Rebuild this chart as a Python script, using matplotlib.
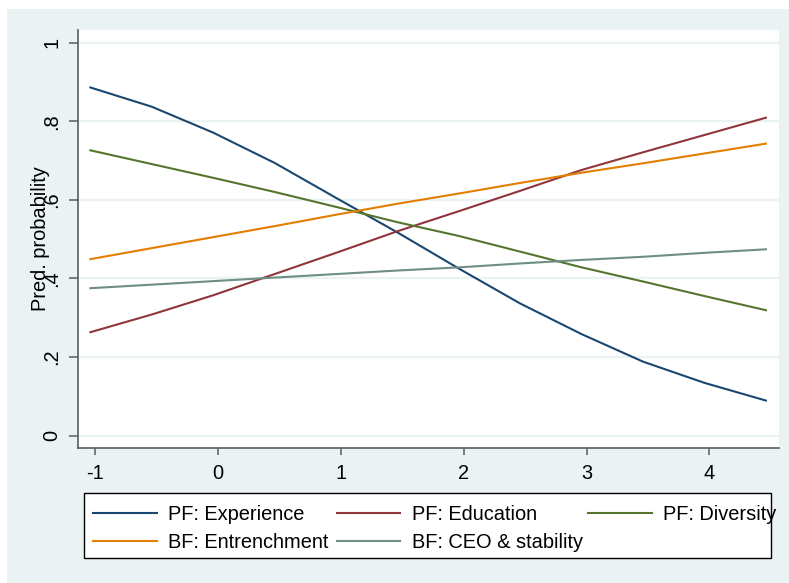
import matplotlib
matplotlib.use("Agg")
import matplotlib.pyplot as plt
from matplotlib.patches import Rectangle
from matplotlib.lines import Line2D

plt.rcParams['font.family'] = ['Liberation Sans', 'DejaVu Sans']

# ---- data -------------------------------------------------------------
x_vals = [-1.04, -0.54, -0.04, 0.46, 0.96, 1.46, 1.96, 2.46, 2.96, 3.46, 3.96, 4.46]

pf_experience = [0.886, 0.837, 0.771, 0.694, 0.605, 0.517, 0.425, 0.336, 0.258, 0.188, 0.134, 0.089]
pf_education = [0.263, 0.308, 0.357, 0.411, 0.465, 0.520, 0.571, 0.623, 0.676, 0.721, 0.765, 0.809]
pf_diversity = [0.726, 0.691, 0.656, 0.620, 0.582, 0.543, 0.508, 0.468, 0.428, 0.392, 0.355, 0.319]
bf_entrenchment = [0.449, 0.477, 0.505, 0.533, 0.562, 0.590, 0.616, 0.643, 0.669, 0.693, 0.718, 0.743]
bf_ceo_stability = [0.375, 0.384, 0.393, 0.402, 0.411, 0.420, 0.428, 0.438, 0.447, 0.455, 0.465, 0.474]

series_labels = ["PF: Experience", "PF: Education", "PF: Diversity",
                 "BF: Entrenchment", "BF: CEO & stability"]
series_values = [pf_experience, pf_education, pf_diversity,
                 bf_entrenchment, bf_ceo_stability]
series_colors = ["#1A476F", "#90353B", "#55752F", "#E37E00", "#6E8E84"]

x_ticks = [-1, 0, 1, 2, 3, 4]
x_ticklabels = ["-1", "0", "1", "2", "3", "4"]
y_ticks = [0, 0.2, 0.4, 0.6, 0.8, 1.0]
y_ticklabels = ["0", ".2", ".4", ".6", ".8", "1"]
y_title = "Pred. probability"

# ---- figure -----------------------------------------------------------
W, H = 789, 583
DPI = 100
fig = plt.figure(figsize=(W / DPI, H / DPI), dpi=DPI, facecolor="white")


def fx(px):
    return px / W


def fy(py):
    return 1 - py / H


BG = "#EAF2F3"
GRID = "#EAF2F3"
AXCOL = "#5C5C5C"
FS = 14.4
LW = 1.5

# graph region background
fig.patches.append(Rectangle((fx(7), 0), fx(789) - fx(7), fy(9), transform=fig.transFigure,
                             facecolor=BG, edgecolor="none", zorder=-10))

# plot region
ax = fig.add_axes([fx(78), fy(448), fx(779) - fx(78), fy(30) - fy(448)])
ax.set_zorder(2)
ax.set_facecolor("white")

for vals, col in zip(series_values, series_colors):
    ax.plot(x_vals, vals, color=col, lw=LW, solid_joinstyle="round", zorder=3)

ax.set_xlim(-1.1407, 4.5667)
ax.set_ylim(-0.0318, 1.0323)

ax.set_xticks(x_ticks)
ax.set_xticklabels(x_ticklabels)
ax.set_yticks(y_ticks)
ax.set_yticklabels(y_ticklabels)

ax.yaxis.grid(True, color=GRID, lw=1.6, zorder=1)
ax.set_axisbelow(True)

for side in ("top", "right"):
    ax.spines[side].set_visible(False)
for side in ("left", "bottom"):
    ax.spines[side].set_color(AXCOL)
    ax.spines[side].set_linewidth(1.2)

ax.tick_params(axis="x", length=5, width=1.1, color=AXCOL, pad=6.5, labelsize=FS)
ax.tick_params(axis="y", length=6.5, width=1.1, color=AXCOL, pad=5.5, labelsize=FS)
for lbl in ax.get_yticklabels():
    lbl.set_rotation(90)
    lbl.set_va("center")
    lbl.set_ha("right")

fig.text(fx(40.5), fy(239), y_title, rotation=90, ha="center", va="center",
         fontsize=FS, zorder=3)

# ---- legend -----------------------------------------------------------
fig.patches.append(Rectangle((fx(84), fy(558.3)), fx(771) - fx(84), fy(492.7) - fy(558.3),
                             transform=fig.transFigure, facecolor="white",
                             edgecolor="black", lw=1.0, zorder=5))

col_handle_x = [(93.3, 156.7), (336.7, 400.0), (588.3, 651.7)]
col_text_x = [168.3, 411.7, 663.3]
row_line_y = [512.5, 540.5]
row_text_y = [519.8, 547.5]

for i, (label, col) in enumerate(zip(series_labels, series_colors)):
    r, c = divmod(i, 3)
    x0, x1 = col_handle_x[c]
    fig.lines.append(Line2D([fx(x0), fx(x1)], [fy(row_line_y[r])] * 2,
                            transform=fig.transFigure, color=col, lw=LW, zorder=6))
    fig.text(fx(col_text_x[c]), fy(row_text_y[r]), label, ha="left", va="baseline",
             fontsize=FS, zorder=6)

fig.savefig("out.png", dpi=DPI, facecolor="white")
